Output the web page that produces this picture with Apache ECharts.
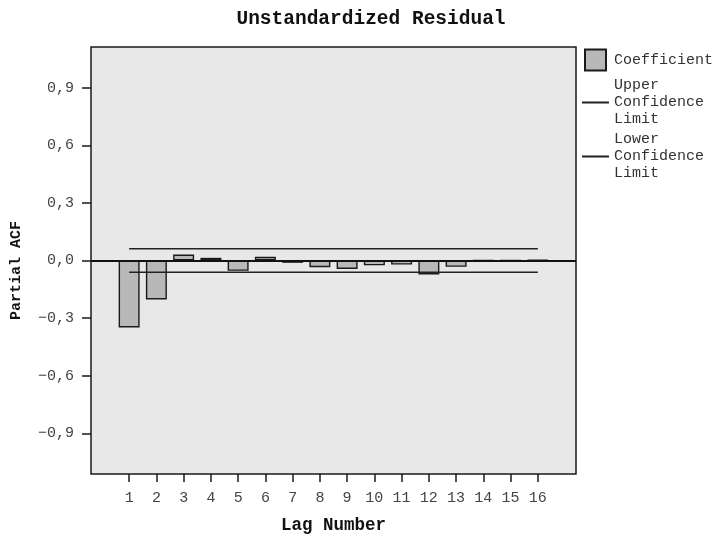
<!DOCTYPE html>
<html><head><meta charset="utf-8">
<script src="https://cdn.jsdelivr.net/npm/echarts@6/dist/echarts.min.js"></script>
<style>html,body{margin:0;padding:0;background:#fff}#c{width:726px;height:535px}</style>
</head><body><div id="c"></div>
<script>
const lags = [1, 2, 3, 4, 5, 6, 7, 8, 9, 10, 11, 12, 13, 14, 15, 16];
const coefficients = [-0.349, -0.203, 0.031, 0.014, -0.054, 0.019, -0.012, -0.035, -0.044, -0.025, -0.021, -0.073, -0.033, 0.0, 0.0, 0.003];
const upperLimit = [0.061, 0.061, 0.061, 0.061, 0.061, 0.061, 0.061, 0.061, 0.061, 0.061, 0.061, 0.061, 0.061, 0.061, 0.061, 0.061];
const lowerLimit = [-0.061, -0.061, -0.061, -0.061, -0.061, -0.061, -0.061, -0.061, -0.061, -0.061, -0.061, -0.061, -0.061, -0.061, -0.061, -0.061];
const yTicks = [-0.9, -0.6, -0.3, 0.0, 0.3, 0.6, 0.9];

const FONT = "'Liberation Mono', 'DejaVu Sans Mono', monospace";
const fmt = v => (v < -1e-9 ? '\u2212' : '') + Math.abs(v).toFixed(1).replace('.', ',');

const chart = echarts.init(document.getElementById('c'), null, {renderer: 'canvas'});
chart.setOption({
  animation: false,
  backgroundColor: '#ffffff',
  title: {
    text: 'Unstandardized Residual',
    left: 366, top: 4, textAlign: 'center',
    textStyle: {fontFamily: FONT, fontSize: 19.5, fontWeight: 'bold', color: '#111'}
  },
  grid: {
    left: 91, right: 150, top: 47, bottom: 61,
    containLabel: false, outerBoundsMode: 'none',
    show: true, backgroundColor: '#e8e8e8', borderColor: '#1a1a1a', borderWidth: 1.5
  },
  legend: {
    orient: 'vertical', left: 582, top: 46, padding: 0,
    itemWidth: 27, itemHeight: 21, itemGap: 3,
    textStyle: {fontFamily: FONT, fontSize: 15, color: '#333', lineHeight: 17},
    data: [
      {name: 'Coefficient', icon: 'path://M0,0H21V21H0Z', textStyle: {lineHeight: 28}},
      {name: 'Upper\nConfidence\nLimit', icon: 'path://M0,0H27V2H0Z', itemStyle: {color: '#222', borderWidth: 0}},
      {name: 'Lower\nConfidence\nLimit', icon: 'path://M0,0H27V2H0Z', itemStyle: {color: '#222', borderWidth: 0}}
    ]
  },
  xAxis: {
    type: 'value', min: -0.4, max: 17.4,
    name: 'Lag Number', nameLocation: 'middle', nameGap: 43,
    nameTextStyle: {fontFamily: FONT, fontSize: 17.5, fontWeight: 'bold', color: '#111'},
    axisLine: {show: false, onZero: false},
    splitLine: {show: false},
    axisTick: {show: true, customValues: lags, length: 8, lineStyle: {color: '#1a1a1a', width: 1.5}},
    axisLabel: {customValues: lags, margin: 17, fontFamily: FONT, fontSize: 15, color: '#444'}
  },
  yAxis: {
    type: 'value', min: -1.112, max: 1.112,
    name: 'Partial ACF', nameLocation: 'middle', nameGap: 67,
    nameTextStyle: {fontFamily: FONT, fontSize: 15, fontWeight: 'bold', color: '#111', padding: [0, 20, 0, 0]},
    axisLine: {show: false, onZero: false},
    splitLine: {show: false},
    axisTick: {show: true, customValues: yTicks, length: 9, lineStyle: {color: '#1a1a1a', width: 1.5}},
    axisLabel: {customValues: yTicks, margin: 17, fontFamily: FONT, fontSize: 15, color: '#444', formatter: fmt}
  },
  series: [
    {
      name: 'Coefficient', type: 'bar', barWidth: 21,
      data: lags.map((l, i) => [l, coefficients[i]]),
      itemStyle: {color: '#b8b8b8', borderColor: '#1a1a1a', borderWidth: 1.4},
      markLine: {
        silent: true, symbol: ['none', 'none'], label: {show: false},
        lineStyle: {color: '#111', width: 2, type: 'solid'},
        data: [{yAxis: 0}]
      },
      z: 2
    },
    {
      name: 'Upper\nConfidence\nLimit', type: 'line', symbol: 'none', color: '#222',
      data: lags.map((l, i) => [l, upperLimit[i]]),
      lineStyle: {color: '#222', width: 1.6}, z: 3
    },
    {
      name: 'Lower\nConfidence\nLimit', type: 'line', symbol: 'none', color: '#222',
      data: lags.map((l, i) => [l, lowerLimit[i]]),
      lineStyle: {color: '#222', width: 1.6}, z: 3
    }
  ]
});
</script>
</body></html>
